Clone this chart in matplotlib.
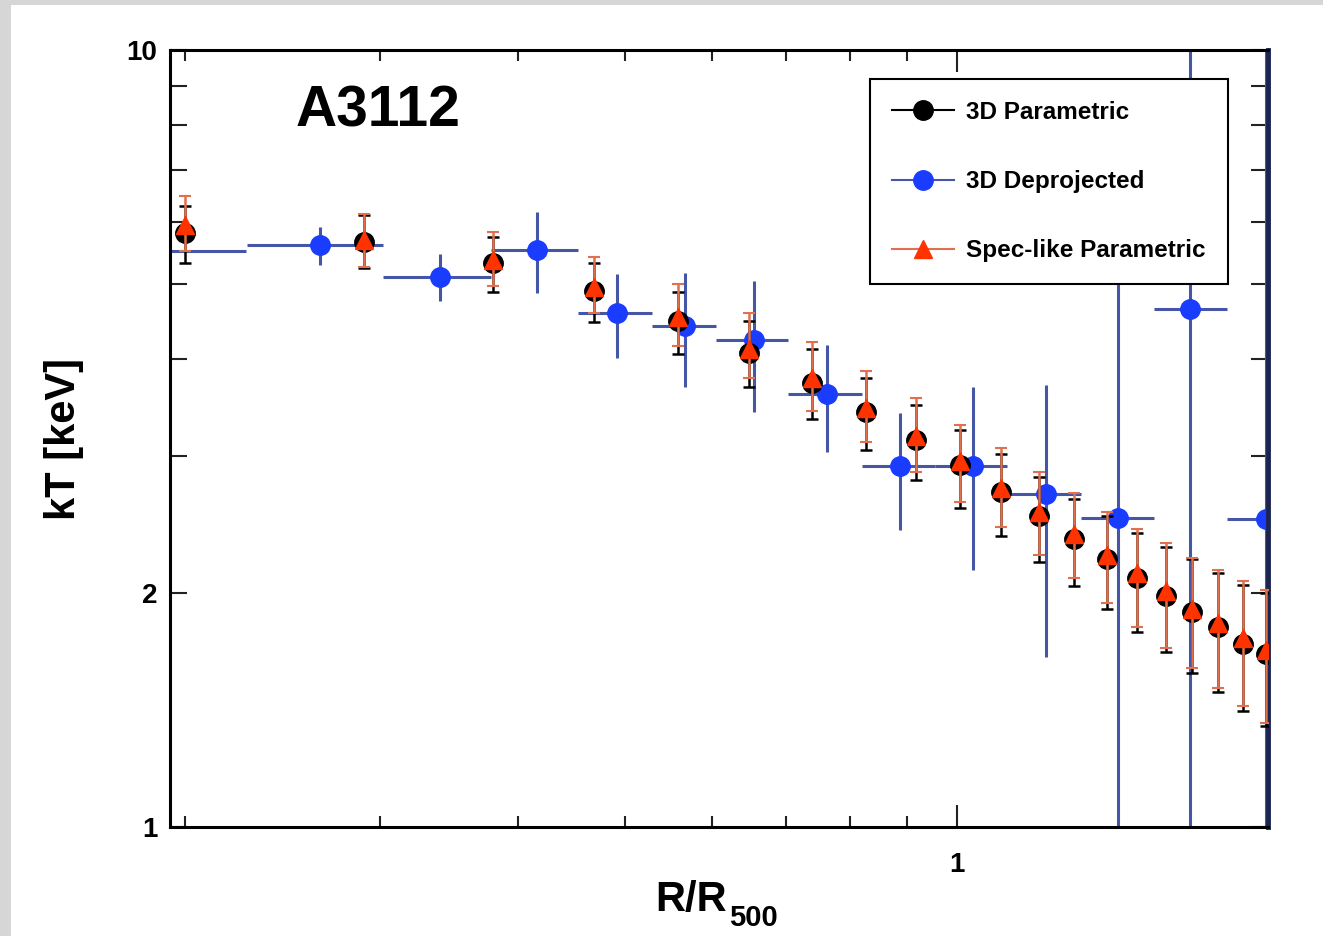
import matplotlib
matplotlib.use("Agg")
from matplotlib import pyplot as plt
from matplotlib.lines import Line2D
from matplotlib.patches import Rectangle
from matplotlib.ticker import NullFormatter
import numpy as np

plt.rcParams['font.family'] = ['Liberation Sans', 'DejaVu Sans']
plt.rcParams['font.weight'] = 'bold'
plt.rcParams['axes.labelweight'] = 'bold'

# 3D parametric profile (black circles)
r_param = [0.200, 0.290, 0.380, 0.469, 0.559, 0.648, 0.739, 0.827, 0.918, 1.006,
           1.096, 1.187, 1.276, 1.367, 1.456, 1.546, 1.633, 1.724, 1.816, 1.905]
kt_param = [5.82, 5.66, 5.32, 4.90, 4.48, 4.07, 3.73, 3.42, 3.15, 2.92,
            2.70, 2.51, 2.35, 2.21, 2.09, 1.98, 1.89, 1.81, 1.72, 1.67]
kt_param_hi = [6.30, 6.13, 5.74, 5.32, 4.88, 4.48, 4.12, 3.78, 3.49, 3.24,
               3.02, 2.82, 2.64, 2.51, 2.39, 2.29, 2.21, 2.12, 2.05, 2.00]
kt_param_lo = [5.32, 5.24, 4.88, 4.47, 4.06, 3.68, 3.35, 3.06, 2.80, 2.57,
               2.37, 2.19, 2.04, 1.91, 1.78, 1.68, 1.58, 1.49, 1.41, 1.35]

# spectroscopic-like parametric profile (red triangles)
kt_spec = [5.96, 5.70, 5.37, 4.95, 4.53, 4.12, 3.78, 3.46, 3.19, 2.96,
           2.73, 2.54, 2.38, 2.24, 2.12, 2.01, 1.91, 1.83, 1.75, 1.69]
kt_spec_hi = [6.49, 6.15, 5.83, 5.41, 5.00, 4.59, 4.21, 3.86, 3.57, 3.29,
              3.07, 2.86, 2.69, 2.54, 2.42, 2.32, 2.22, 2.14, 2.07, 2.02]
kt_spec_lo = [5.51, 5.26, 4.97, 4.59, 4.16, 3.78, 3.43, 3.13, 2.86, 2.62,
              2.43, 2.24, 2.09, 1.94, 1.81, 1.70, 1.60, 1.51, 1.43, 1.36]

# 3D deprojected profile (blue circles, radial bins)
r_deproj = [0.175, 0.265, 0.340, 0.4165, 0.492, 0.567, 0.655, 0.762, 0.888, 1.034,
            1.204, 1.399, 1.626, 1.905]
r_deproj_lo = [0.135, 0.2275, 0.302, 0.378, 0.4535, 0.5293, 0.605, 0.703, 0.820, 0.955,
               1.110, 1.295, 1.508, 1.756]
r_deproj_hi = [0.227, 0.302, 0.378, 0.4535, 0.5293, 0.605, 0.703, 0.820, 0.955, 1.110,
               1.295, 1.508, 1.756, 2.05]
kt_deproj = [5.51, 5.61, 5.10, 5.53, 4.59, 4.41, 4.24, 3.61, 2.915, 2.915,
             2.68, 2.50, 4.64, 2.49]
kt_deproj_hi = [5.80, 5.92, 5.47, 6.19, 5.15, 5.16, 5.04, 4.17, 3.41, 3.68,
                3.71, 7.0, 15.0, 15.0]
kt_deproj_lo = [5.20, 5.29, 4.75, 4.87, 4.01, 3.68, 3.42, 3.04, 2.41, 2.14,
                1.655, 0.5, 0.5, 0.5]

x_major = [1]
x_minor = [0.2, 0.3, 0.4, 0.5, 0.6, 0.7, 0.8, 0.9]
y_major = [1, 2, 10]
y_minor = [3, 4, 5, 6, 7, 8, 9]


def asym(center, lo, hi):
    c = np.array(center)
    return [c - np.array(lo), np.array(hi) - c]


fig = plt.figure(figsize=(13.23, 9.36), dpi=100)
fig.patch.set_facecolor('#d6d6d6')
fig.add_artist(Rectangle((11 / 1323, 0), 1, 931 / 936, transform=fig.transFigure,
                         facecolor='white', edgecolor='none', zorder=-10))

ax = fig.add_axes([170 / 1323, 109 / 936, 1098 / 1323, 777 / 936])
ax.set_xscale('log')
ax.set_yscale('log')

blue_line = '#4656a6'
red_line = '#e0704e'

ax.errorbar(r_deproj, kt_deproj,
            xerr=asym(r_deproj, r_deproj_lo, r_deproj_hi),
            yerr=asym(kt_deproj, kt_deproj_lo, kt_deproj_hi),
            fmt='o', color='#1a3cff', ms=14, ecolor=blue_line, elinewidth=2.2,
            capsize=0, zorder=2)
ax.errorbar(r_param, kt_param, yerr=asym(kt_param, kt_param_lo, kt_param_hi),
            fmt='o', color='black', ms=14, ecolor='black', elinewidth=1.8,
            capsize=4, capthick=1.8, zorder=3)
ax.errorbar(r_param, kt_spec, yerr=asym(kt_spec, kt_spec_lo, kt_spec_hi),
            fmt='^', color='#ff3300', ms=13, ecolor=red_line, elinewidth=1.8,
            capsize=4, capthick=1.5, zorder=4)

ax.set_xlim(0.1937, 1.9126)
ax.set_ylim(1, 10)

ax.set_xticks(x_major, ['1'])
ax.set_xticks(x_minor, minor=True)
ax.xaxis.set_minor_formatter(NullFormatter())
ax.set_yticks(y_major, ['1', '2', '10'])
ax.set_yticks(y_minor, minor=True)
ax.yaxis.set_minor_formatter(NullFormatter())

ax.tick_params(which='both', direction='in', top=True, right=True,
               width=1.5, color='#222222', labelsize=20)
ax.tick_params(axis='x', which='major', length=16, pad=18)
ax.tick_params(axis='x', which='minor', length=8)
ax.tick_params(axis='y', which='both', length=12, pad=9)

for s in ax.spines.values():
    s.set_linewidth(2.2)
ax.spines['right'].set_color('#1c2550')
ax.spines['right'].set_linewidth(3.5)

# x title drawn as main text plus a lowered subscript, like the original
fig.text(655 / 1323, 1 - 911 / 936, 'R/R', fontsize=30, fontweight='bold',
         ha='left', va='baseline')
fig.text(729 / 1323, 1 - 926 / 936, '500', fontsize=21, fontweight='bold',
         ha='left', va='baseline')
ax.set_ylabel('kT [keV]', fontsize=30, fontweight='bold')
ax.yaxis.set_label_coords(-0.078, 0.5)

ax.text(0.114, 0.901, 'A3112', transform=ax.transAxes, fontsize=41,
        fontweight='bold', ha='left', va='baseline')

handles = [
    Line2D([], [], color='black', lw=1.5, marker='o', ms=14),
    Line2D([], [], color=blue_line, lw=1.5, marker='o', ms=14, mfc='#1a3cff', mec='#1a3cff'),
    Line2D([], [], color=red_line, lw=1.5, marker='^', ms=13, mfc='#ff3300', mec='#ff3300'),
]
labels = ['3D Parametric', '3D Deprojected', 'Spec-like Parametric']
leg = ax.legend(handles, labels, loc='upper left',
                bbox_to_anchor=(0.6375, 0.70, 0.326, 0.2627), mode='expand',
                fontsize=17.5, frameon=True, fancybox=False, framealpha=1,
                edgecolor='black', borderpad=0.9, labelspacing=1.9,
                handlelength=2.55, handletextpad=0.5, borderaxespad=0)
leg.get_frame().set_linewidth(1.5)
leg.set_zorder(10)

fig.savefig('out.png', dpi=100, facecolor=fig.get_facecolor())
